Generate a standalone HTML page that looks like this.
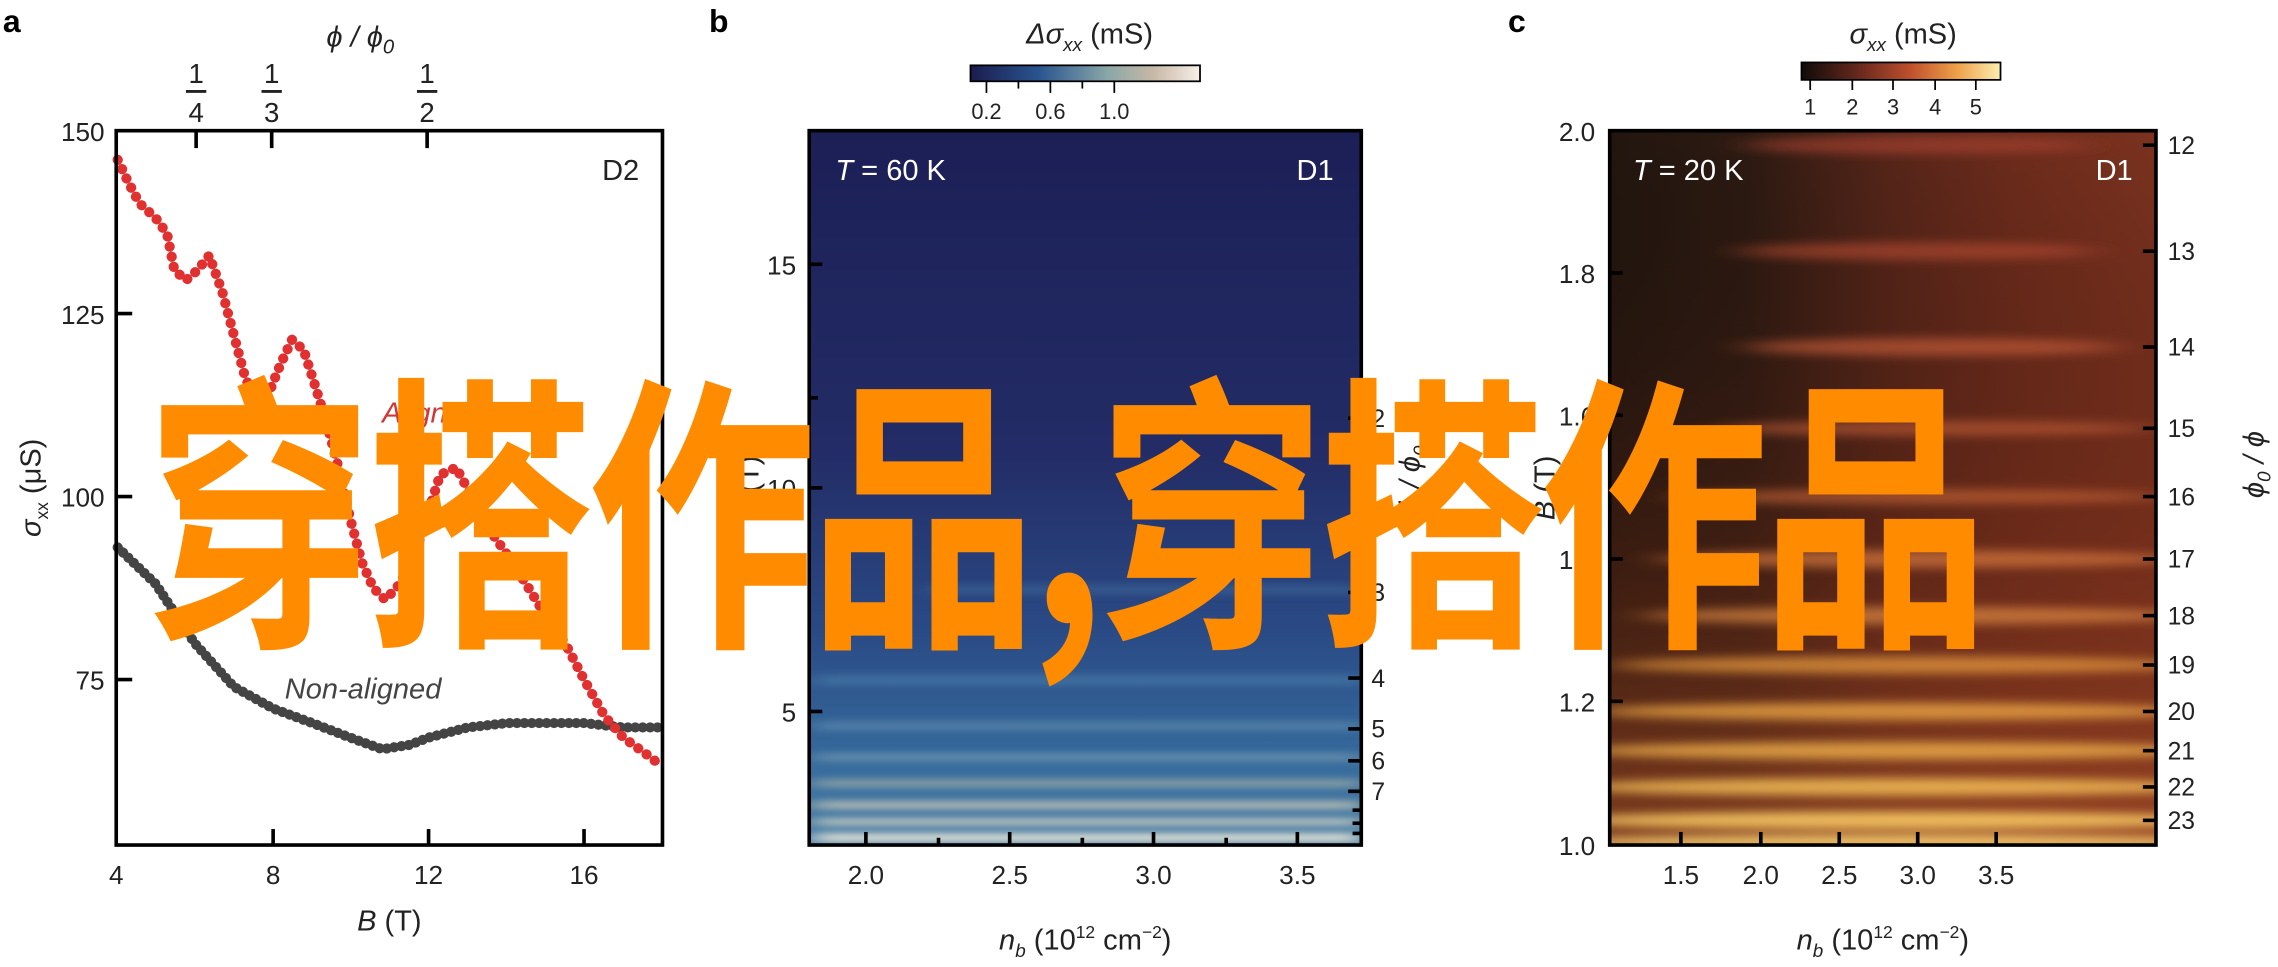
<!DOCTYPE html>
<html><head><meta charset="utf-8"><style>
html,body{margin:0;padding:0;background:#fff;width:2278px;height:967px;overflow:hidden}
svg{display:block}
text{font-family:"Liberation Sans","Noto Sans CJK SC",sans-serif;fill:#222}
</style></head><body>
<svg width="2278" height="967" viewBox="0 0 1568 666" preserveAspectRatio="none" xmlns="http://www.w3.org/2000/svg">
<defs>
<linearGradient id="bbase" x1="0" y1="0" x2="0" y2="1">
<stop offset="0" stop-color="#1c1f56"/><stop offset="0.45" stop-color="#232c66"/>
<stop offset="0.7" stop-color="#2a4a85"/><stop offset="0.88" stop-color="#356a9c"/><stop offset="1" stop-color="#4a7fa6"/>
</linearGradient>
<linearGradient id="bcb" x1="0" x2="1"><stop offset="0" stop-color="#1a1c4e"/><stop offset="0.3" stop-color="#2a5590"/><stop offset="0.6" stop-color="#8aa7a8"/><stop offset="0.8" stop-color="#c8b9a6"/><stop offset="1" stop-color="#f8efe8"/></linearGradient>
<linearGradient id="ccb" x1="0" x2="1"><stop offset="0" stop-color="#0f0b09"/><stop offset="0.3" stop-color="#6b2a1e"/><stop offset="0.55" stop-color="#c0502e"/><stop offset="0.78" stop-color="#eea048"/><stop offset="1" stop-color="#fbeeb0"/></linearGradient>
<linearGradient id="cbase" x1="0" x2="1">
<stop offset="0" stop-color="#22160f"/><stop offset="0.25" stop-color="#2c1a12"/><stop offset="0.5" stop-color="#552519"/><stop offset="0.75" stop-color="#6e2c1c"/><stop offset="1" stop-color="#7c321f"/>
</linearGradient>
<linearGradient id="cvert" x1="0" y1="0" x2="0" y2="1">
<stop offset="0" stop-color="#000" stop-opacity="0"/><stop offset="0.6" stop-color="#6a2814" stop-opacity="0.35"/><stop offset="1" stop-color="#a04a24" stop-opacity="0.75"/>
</linearGradient>
<filter id="blur3" x="-30%" y="-300%" width="160%" height="700%"><feGaussianBlur stdDeviation="14 3.5"/></filter>
<filter id="blur2" x="-20%" y="-300%" width="140%" height="700%"><feGaussianBlur stdDeviation="8 2.5"/></filter>
<clipPath id="clb"><rect x="557" y="90" width="380" height="492"/></clipPath>
<clipPath id="clc"><rect x="1108" y="90" width="376" height="492"/></clipPath>
</defs>

<!-- ===== Panel a ===== -->
<text x="2" y="22" font-size="22" font-weight="bold" style="fill:#000">a</text>
<text x="248" y="32" font-size="20" text-anchor="middle" font-style="italic">ϕ / ϕ<tspan font-size="14" dy="5">0</tspan></text>
<g font-size="19" text-anchor="middle">
<text x="135" y="57">1</text><line x1="128" y1="63" x2="142" y2="63" stroke="#222" stroke-width="2"/><text x="135" y="84">4</text>
<text x="187" y="57">1</text><line x1="180" y1="63" x2="194" y2="63" stroke="#222" stroke-width="2"/><text x="187" y="84">3</text>
<text x="294" y="57">1</text><line x1="287" y1="63" x2="301" y2="63" stroke="#222" stroke-width="2"/><text x="294" y="84">2</text>
</g>
<g stroke="#000" stroke-width="2.5">
<line x1="135" y1="90" x2="135" y2="102"/><line x1="187" y1="90" x2="187" y2="102"/><line x1="294" y1="90" x2="294" y2="102"/>
<line x1="80" y1="216" x2="91" y2="216"/><line x1="80" y1="342" x2="91" y2="342"/><line x1="80" y1="468" x2="91" y2="468"/>
<line x1="188" y1="582" x2="188" y2="571"/><line x1="295" y1="582" x2="295" y2="571"/><line x1="402" y1="582" x2="402" y2="571"/>
</g>
<polyline fill="none" stroke="#444" stroke-width="7" stroke-linecap="round" stroke-dasharray="0.1 5"
points="81,377 107,402 134,443 161,473 188,488 215,498 241,508 263,516 282,513 295,508 322,501 349,498 375,498 402,498 429,501 456,501"/>
<polyline fill="none" stroke="#e03030" stroke-width="7" stroke-linecap="round" stroke-dasharray="0.1 7"
points="81,110 88,125 96,140 107,150 115,161 120,186 128,193 136,186 144,176 153,201 161,231 169,261 177,276 185,271 193,251 201,234 209,241 217,266 225,292 233,322 241,357 249,387 257,405 265,413 273,405 284,387 295,352 303,327 314,322 322,337 335,362 349,382 362,402 375,423 389,443 402,468 416,493 429,508 443,518 456,528"/>
<text x="263" y="291" font-size="20" font-style="italic" style="fill:#d03838">Aligned</text>
<text x="196" y="481" font-size="20" font-style="italic" style="fill:#444">Non-aligned</text>
<text x="440" y="124" font-size="20" text-anchor="end">D2</text>
<rect x="80" y="90" width="376" height="492" fill="none" stroke="#000" stroke-width="2.5"/>
<g font-size="18" text-anchor="end"><text x="72" y="97">150</text><text x="72" y="223">125</text><text x="72" y="349">100</text><text x="72" y="475">75</text></g>
<g font-size="18" text-anchor="middle"><text x="80" y="609">4</text><text x="188" y="609">8</text><text x="295" y="609">12</text><text x="402" y="609">16</text></g>
<text x="268" y="641" font-size="20" text-anchor="middle"><tspan font-style="italic">B</tspan> (T)</text>
<text transform="translate(28,336) rotate(-90)" font-size="20" text-anchor="middle"><tspan font-style="italic">σ</tspan><tspan font-size="12" dy="5">xx</tspan><tspan dy="-5"> (μS)</tspan></text>

<!-- ===== Panel b ===== -->
<text x="488" y="22" font-size="22" font-weight="bold" style="fill:#000">b</text>
<text x="750" y="30" font-size="20" text-anchor="middle"><tspan font-style="italic">Δσ</tspan><tspan font-size="13" dy="5" font-style="italic">xx</tspan><tspan dy="-5"> (mS)</tspan></text>
<rect x="668" y="45" width="158" height="11" fill="url(#bcb)" stroke="#000" stroke-width="1.2"/>
<g stroke="#000" stroke-width="1.2"><line x1="679" y1="56" x2="679" y2="64"/><line x1="701" y1="56" x2="701" y2="61"/><line x1="723" y1="56" x2="723" y2="64"/><line x1="745" y1="56" x2="745" y2="61"/><line x1="767" y1="56" x2="767" y2="64"/></g>
<g font-size="15" text-anchor="middle"><text x="679" y="82">0.2</text><text x="723" y="82">0.6</text><text x="767" y="82">1.0</text></g>
<g clip-path="url(#clb)">
<rect x="557" y="90" width="380" height="492" fill="url(#bbase)"/>
<g filter="url(#blur2)">
<rect x="640" y="403" width="297" height="6" fill="#4f86b0" opacity="0.35"/>
<rect x="560" y="465" width="377" height="7" fill="#5b93b8" opacity="0.4"/>
<rect x="560" y="497" width="377" height="6" fill="#7aa6bc" opacity="0.45"/>
<rect x="560" y="519" width="377" height="5" fill="#9cb6bb" opacity="0.5"/>
<rect x="560" y="537" width="377" height="5" fill="#c8c4ab" opacity="0.6"/>
<rect x="560" y="552" width="377" height="5" fill="#e6d7b8" opacity="0.75"/>
<rect x="560" y="564" width="377" height="4" fill="#f2e6cc" opacity="0.85"/>
<rect x="560" y="574" width="377" height="6" fill="#f6eedc" opacity="0.9"/>
</g>
</g>
<g stroke="#000" stroke-width="2.5">
<line x1="557" y1="182" x2="566" y2="182"/><line x1="557" y1="274" x2="563" y2="274"/><line x1="557" y1="336" x2="566" y2="336"/><line x1="557" y1="490" x2="566" y2="490"/>
<line x1="596" y1="582" x2="596" y2="573"/><line x1="646" y1="582" x2="646" y2="577"/><line x1="695" y1="582" x2="695" y2="573"/><line x1="745" y1="582" x2="745" y2="577"/><line x1="794" y1="582" x2="794" y2="573"/><line x1="844" y1="582" x2="844" y2="577"/><line x1="893" y1="582" x2="893" y2="573"/>
<line x1="937" y1="288" x2="928" y2="288"/><line x1="937" y1="408" x2="928" y2="408"/><line x1="937" y1="467" x2="928" y2="467"/><line x1="937" y1="502" x2="928" y2="502"/><line x1="937" y1="524" x2="928" y2="524"/><line x1="937" y1="545" x2="928" y2="545"/><line x1="937" y1="558" x2="931" y2="558"/><line x1="937" y1="567" x2="931" y2="567"/><line x1="937" y1="574" x2="931" y2="574"/>
</g>
<rect x="557" y="90" width="380" height="492" fill="none" stroke="#000" stroke-width="2.5"/>
<text x="575" y="124" font-size="20" style="fill:#fff"><tspan font-style="italic" style="fill:#fff">T</tspan> = 60 K</text>
<text x="918" y="124" font-size="20" text-anchor="end" style="fill:#fff">D1</text>
<g font-size="18" text-anchor="end"><text x="548" y="189">15</text><text x="548" y="343">10</text><text x="548" y="497">5</text></g>
<g font-size="18" text-anchor="middle"><text x="596" y="609">2.0</text><text x="695" y="609">2.5</text><text x="794" y="609">3.0</text><text x="893" y="609">3.5</text></g>
<g font-size="17"><text x="944" y="294">2</text><text x="944" y="414">3</text><text x="944" y="473">4</text><text x="944" y="508">5</text><text x="944" y="530">6</text><text x="944" y="551">7</text></g>
<text x="747" y="654" font-size="20" text-anchor="middle"><tspan font-style="italic">n</tspan><tspan font-size="13" dy="5" font-style="italic">b</tspan><tspan dy="-5"> (10</tspan><tspan font-size="12" dy="-8">12</tspan><tspan dy="8"> cm</tspan><tspan font-size="12" dy="-8">−2</tspan><tspan dy="8">)</tspan></text>
<text transform="translate(522,336) rotate(-90)" font-size="20" text-anchor="middle"><tspan font-style="italic">B</tspan> (T)</text>
<text transform="translate(977,330) rotate(-90)" font-size="20" text-anchor="middle" font-style="italic">ϕ / ϕ<tspan font-size="13" dy="5">0</tspan></text>

<!-- ===== Panel c ===== -->
<text x="1038" y="22" font-size="22" font-weight="bold" style="fill:#000">c</text>
<text x="1310" y="30" font-size="20" text-anchor="middle"><tspan font-style="italic">σ</tspan><tspan font-size="13" dy="5" font-style="italic">xx</tspan><tspan dy="-5"> (mS)</tspan></text>
<rect x="1240" y="43" width="137" height="12" fill="url(#ccb)" stroke="#000" stroke-width="1.2"/>
<g stroke="#000" stroke-width="1.2"><line x1="1246" y1="55" x2="1246" y2="62"/><line x1="1275" y1="55" x2="1275" y2="62"/><line x1="1303" y1="55" x2="1303" y2="62"/><line x1="1332" y1="55" x2="1332" y2="62"/><line x1="1360" y1="55" x2="1360" y2="62"/></g>
<g font-size="15" text-anchor="middle"><text x="1246" y="79">1</text><text x="1275" y="79">2</text><text x="1303" y="79">3</text><text x="1332" y="79">4</text><text x="1360" y="79">5</text></g>
<g clip-path="url(#clc)">
<rect x="1108" y="90" width="376" height="492" fill="url(#cbase)"/>
<rect x="1108" y="90" width="376" height="492" fill="url(#cvert)"/>
<g filter="url(#blur3)">
<ellipse cx="1320" cy="100" rx="120" ry="6" fill="#a84030" opacity="0.65"/>
<ellipse cx="1320" cy="173" rx="125" ry="6" fill="#b04832" opacity="0.65"/>
<ellipse cx="1330" cy="239" rx="130" ry="6" fill="#c05a38" opacity="0.7"/>
<ellipse cx="1330" cy="295" rx="150" ry="5" fill="#c25c38" opacity="0.65"/>
<ellipse cx="1320" cy="342" rx="170" ry="5" fill="#c86638" opacity="0.65"/>
<ellipse cx="1320" cy="385" rx="180" ry="6" fill="#d87a3e" opacity="0.7"/>
<ellipse cx="1320" cy="424" rx="190" ry="6" fill="#e08a42" opacity="0.7"/>
<ellipse cx="1310" cy="458" rx="200" ry="6" fill="#e6983f" opacity="0.75"/>
<ellipse cx="1305" cy="490" rx="210" ry="6" fill="#eca545" opacity="0.8"/>
<ellipse cx="1305" cy="517" rx="220" ry="6" fill="#f0b04a" opacity="0.8"/>
<ellipse cx="1305" cy="542" rx="225" ry="6" fill="#f4bd55" opacity="0.85"/>
<ellipse cx="1305" cy="565" rx="230" ry="6" fill="#f7c862" opacity="0.9"/>
<ellipse cx="1305" cy="580" rx="240" ry="5" fill="#f8d070" opacity="0.9"/>
</g>
</g>
<g stroke="#000" stroke-width="2.5">
<line x1="1108" y1="188" x2="1117" y2="188"/><line x1="1108" y1="286" x2="1117" y2="286"/><line x1="1108" y1="385" x2="1117" y2="385"/><line x1="1108" y1="483" x2="1117" y2="483"/>
<line x1="1157" y1="582" x2="1157" y2="573"/><line x1="1212" y1="582" x2="1212" y2="573"/><line x1="1266" y1="582" x2="1266" y2="573"/><line x1="1320" y1="582" x2="1320" y2="573"/><line x1="1374" y1="582" x2="1374" y2="573"/>
<line x1="1484" y1="100" x2="1475" y2="100"/><line x1="1484" y1="173" x2="1475" y2="173"/><line x1="1484" y1="239" x2="1475" y2="239"/><line x1="1484" y1="295" x2="1475" y2="295"/><line x1="1484" y1="342" x2="1475" y2="342"/><line x1="1484" y1="385" x2="1475" y2="385"/><line x1="1484" y1="424" x2="1475" y2="424"/><line x1="1484" y1="458" x2="1475" y2="458"/><line x1="1484" y1="490" x2="1475" y2="490"/><line x1="1484" y1="517" x2="1475" y2="517"/><line x1="1484" y1="542" x2="1475" y2="542"/><line x1="1484" y1="565" x2="1475" y2="565"/>
</g>
<rect x="1108" y="90" width="376" height="492" fill="none" stroke="#000" stroke-width="2.5"/>
<text x="1124" y="124" font-size="20" style="fill:#fff"><tspan font-style="italic" style="fill:#fff">T</tspan> = 20 K</text>
<text x="1468" y="124" font-size="20" text-anchor="end" style="fill:#fff">D1</text>
<g font-size="18" text-anchor="end"><text x="1098" y="97">2.0</text><text x="1098" y="195">1.8</text><text x="1098" y="293">1.6</text><text x="1098" y="392">1.4</text><text x="1098" y="490">1.2</text><text x="1098" y="589">1.0</text></g>
<g font-size="18" text-anchor="middle"><text x="1157" y="609">1.5</text><text x="1212" y="609">2.0</text><text x="1266" y="609">2.5</text><text x="1320" y="609">3.0</text><text x="1374" y="609">3.5</text></g>
<g font-size="17"><text x="1492" y="106">12</text><text x="1492" y="179">13</text><text x="1492" y="245">14</text><text x="1492" y="301">15</text><text x="1492" y="348">16</text><text x="1492" y="391">17</text><text x="1492" y="430">18</text><text x="1492" y="464">19</text><text x="1492" y="496">20</text><text x="1492" y="523">21</text><text x="1492" y="548">22</text><text x="1492" y="571">23</text></g>
<text x="1296" y="654" font-size="20" text-anchor="middle"><tspan font-style="italic">n</tspan><tspan font-size="13" dy="5" font-style="italic">b</tspan><tspan dy="-5"> (10</tspan><tspan font-size="12" dy="-8">12</tspan><tspan dy="8"> cm</tspan><tspan font-size="12" dy="-8">−2</tspan><tspan dy="8">)</tspan></text>
<text transform="translate(1070,336) rotate(-90)" font-size="20" text-anchor="middle"><tspan font-style="italic">B</tspan> (T)</text>
<text transform="translate(1558,320) rotate(-90)" font-size="20" text-anchor="middle" font-style="italic">ϕ<tspan font-size="13" dy="5">0</tspan><tspan dy="-5"> / ϕ</tspan></text>

<!-- watermark -->
<text x="0" y="0" transform="translate(100,430) scale(0.785,1)" font-size="200" font-weight="bold" style="fill:#ff8c00;font-family:'Noto Sans CJK SC','WenQuanYi Zen Hei',sans-serif" letter-spacing="-6">穿搭作品,穿搭作品</text>
</svg>
</body></html>
